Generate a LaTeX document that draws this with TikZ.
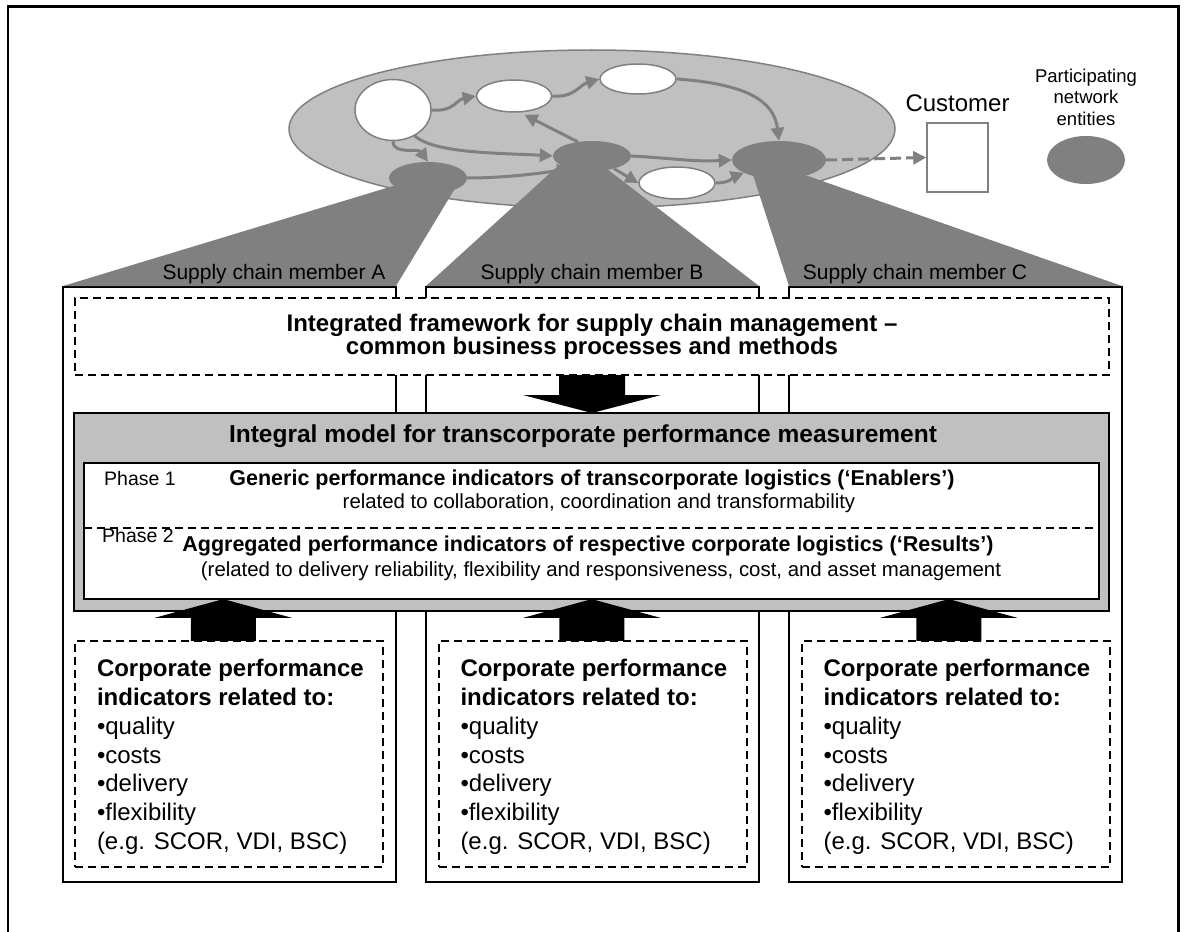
\documentclass[tikz,border=0pt]{standalone}
\usepackage{fontspec}
\setmainfont{Liberation Sans}
\usetikzlibrary{shapes.geometric,arrows.meta,positioning}
\usepackage{color}

\definecolor{netdark}{HTML}{808080}
\definecolor{netlight}{HTML}{C0C0C0}

\newcommand{\kpilist}{\textbf{Corporate performance}\\
  \textbf{indicators related to:}\\
  •quality\\
  •costs\\
  •delivery\\
  •flexibility\\
  (e.g. SCOR, VDI, BSC)}

\tikzset{
  site/.style={ellipse, draw=netdark, line width=1.5pt, fill=white, inner sep=0pt},
  entity/.style={ellipse, fill=netdark, inner sep=0pt},
  flow/.style={draw=netdark, line width=3pt, -{Triangle[length=13pt,width=13pt]}},
  memberbox/.style={rectangle, draw, line width=2pt, inner sep=0pt, outer sep=0pt,
    minimum width=333pt, minimum height=595pt},
  dashbox/.style={rectangle, draw, fill=white, line width=2pt, inner sep=0pt, outer sep=0pt,
    dash pattern=on 8pt off 5pt},
  beam/.style={fill=netdark},
  blockarrow/.style={fill=black},
  memlabel/.style={font=\fontsize{21}{25}\selectfont, inner sep=0pt, anchor=base},
  headline/.style={font=\bfseries\fontsize{21.5}{25}\selectfont, inner sep=0pt, anchor=mid},
  subline/.style={font=\fontsize{20.4}{24}\selectfont, inner sep=0pt, anchor=mid},
  phaselabel/.style={font=\fontsize{19.5}{23}\selectfont, inner sep=0pt, anchor=mid west},
}

\begin{document}
\begin{tikzpicture}[x=1pt,y=-1pt]

  \useasboundingbox (0,0) rectangle (1185,931);
  \draw[line width=2.5pt] (8,940) -- (8,6.5) -- (1178.5,6.5) -- (1178.5,940);

  % Network

  \node[ellipse, fill=netlight, draw=netdark, line width=1.5pt,
    minimum width=606pt, minimum height=158pt] (network) at (592,129) {} ;

  \node[memberbox] (memA) at (229.5,584.5) {} ;
  \node[memberbox] (memB) at (592.5,584.5) {} ;
  \node[memberbox] (memC) at (955.5,584.5) {} ;

  \node[entity, minimum width=78pt, minimum height=32pt] (entA) at (428,178) {} ;
  \node[entity, minimum width=78pt, minimum height=30pt] (entB) at (592,156) {} ;
  \node[entity, minimum width=94pt, minimum height=38pt] (entC) at (779,160) {} ;

  \fill[beam] ([yshift=1pt]memA.north west) -- ([yshift=1pt]memA.north east)
    -- ([shift={(26,12)}]entA.center) -- ([shift={(-35,8)}]entA.center) -- cycle ;
  \fill[beam] ([yshift=1pt]memB.north west) -- ([yshift=1pt]memB.north east)
    -- ([shift={(15,13)}]entB.center) -- ([shift={(-33,9)}]entB.center) -- cycle ;
  \fill[beam] ([yshift=1pt]memC.north west) -- ([yshift=1pt]memC.north east)
    -- ([shift={(26,15)}]entC.center) -- ([shift={(-26,15)}]entC.center) -- cycle ;

  \node[site, minimum width=76pt, minimum height=61pt] (w1) at (393,110) {} ;
  \node[site, minimum width=75pt, minimum height=32pt] (w2) at (514,96) {} ;
  \node[site, minimum width=76pt, minimum height=30pt] (w3) at (638,79) {} ;
  \node[site, minimum width=76pt, minimum height=32pt] (w4) at (677,183) {} ;

  \draw[flow] (w1.east) .. controls +(22,2) and +(-20,4) .. (w2.west) ;
  \draw[flow] (w2.east) .. controls +(22,2) and +(-20,6) .. (w3.west) ;
  \draw[flow] (w3.east) .. controls +(70,5) and +(-5,-40) .. (entC.north) ;
  \draw[flow] (w1.south) .. controls +(0,14) and +(-10,-14) .. (entA.north) ;
  \draw[flow] (w1.-50) .. controls +(20,18) and +(-50,-3) .. (entB.west) ;
  \draw[flow, shorten >=5pt] (entB.135) -- (w2.-70) ;
  \draw[flow] (entA.east) .. controls +(40,0) and +(-25,4) .. (entB.-150) ;
  \draw[flow] (entB.east) .. controls +(40,2) and +(-40,2) .. (entC.west) ;
  \draw[flow] (entB.-30) -- (w4.west) ;
  \draw[flow] (w4.east) .. controls +(15,0) and +(-10,4) .. (entC.-160) ;

  % More nodes

  \node[rectangle, draw=netdark, fill=white, line width=1.5pt, inner sep=0pt,
    minimum width=61pt, minimum height=69pt] (customer) at (957.5,157.5) {} ;
  \node[font=\fontsize{24}{28}\selectfont, inner sep=0pt, above=10pt of customer] (custlabel) {Customer} ;
  \draw[flow, dash pattern=on 11pt off 5pt] (entC.east) -- (customer.west) ;

  \node[entity, minimum width=78pt, minimum height=48pt] (legend) at (1086,160) {} ;
  \node[font=\fontsize{18.5}{21.5}\selectfont, align=center, inner sep=0pt,
    above=10pt of legend] (legendlabel) {Participating\\network\\entities} ;

  \node[memlabel] (labA) at (274,279) {Supply chain member A} ;
  \node[memlabel] (labB) at (592,279) {Supply chain member B} ;
  \node[memlabel] (labC) at (915,279) {Supply chain member C} ;

  % Framework and model

  \node[dashbox, minimum width=1034pt, minimum height=77pt, align=center,
    font=\bfseries\fontsize{24}{23}\selectfont] (frame) at (592,336.5)
    {Integrated framework for supply chain management –\\common business processes and methods} ;

  \node[rectangle, draw, fill=netlight, line width=2pt, inner sep=0pt, outer sep=0pt,
    minimum width=1035pt, minimum height=198pt] (model) at (591.5,512) {} ;
  \node[font=\bfseries\fontsize{24.5}{28}\selectfont, inner sep=0pt, anchor=mid] (modeltitle)
    at (583,440) {Integral model for transcorporate performance measurement} ;

  \node[rectangle, fill=white, inner sep=0pt, outer sep=0pt,
    minimum width=1015pt, minimum height=65pt] (phase1) at (591.5,495.5) {} ;
  \node[rectangle, fill=white, inner sep=0pt, outer sep=0pt,
    minimum width=1015pt, minimum height=71pt] (phase2) at (591.5,563.5) {} ;
  \draw[line width=1.5pt] (phase1.north west) rectangle (phase2.south east) ;
  \draw[line width=1.5pt, dash pattern=on 8pt off 5pt] (phase1.south west) -- (phase1.south east) ;

  \node[phaselabel] (p1label) at (104,483) {Phase 1} ;
  \node[headline] (p1head) at (592,483) {Generic performance indicators of transcorporate logistics (‘Enablers’)} ;
  \node[subline] (p1sub) at (599,506) {related to collaboration, coordination and transformability} ;
  \node[phaselabel] (p2label) at (102,540) {Phase 2} ;
  \node[headline] (p2head) at (588,549) {Aggregated performance indicators of respective corporate logistics (‘Results’)} ;
  \node[subline] (p2sub) at (601,574) {(related to delivery reliability, flexibility and responsiveness, cost, and asset management} ;

  % Member indicators

  \node[dashbox, minimum width=308pt, minimum height=226pt] (kpiA) at (229.3,753.8) {} ;
  \node[dashbox, minimum width=308pt, minimum height=226pt] (kpiB) at (592.8,753.8) {} ;
  \node[dashbox, minimum width=308pt, minimum height=226pt] (kpiC) at (955.8,753.8) {} ;

  \fill[blockarrow] (frame.south) ++(-33,0) -- ++(0,20) -- ++(-36,0) -- ++(69,18)
    -- ++(69,-18) -- ++(-36,0) -- ++(0,-20) -- cycle ;

  \foreach \p/\dx in {A/-6,B/-1,C/-7} {
    \fill[blockarrow] ([xshift=\dx pt]kpi\p.north) ++(-32.5,0) -- ++(0,-23) -- ++(-36,0)
      -- ++(68.5,-18.7) -- ++(68.5,18.7) -- ++(-36,0) -- ++(0,23) -- cycle ;
    \node[font=\fontsize{24}{28.7}\selectfont, align=left, inner sep=0pt, anchor=north west]
      (txt\p) at ([shift={(21.5,18.5)}]kpi\p.north west) {\kpilist} ;
  }

\end{tikzpicture}
\end{document}
